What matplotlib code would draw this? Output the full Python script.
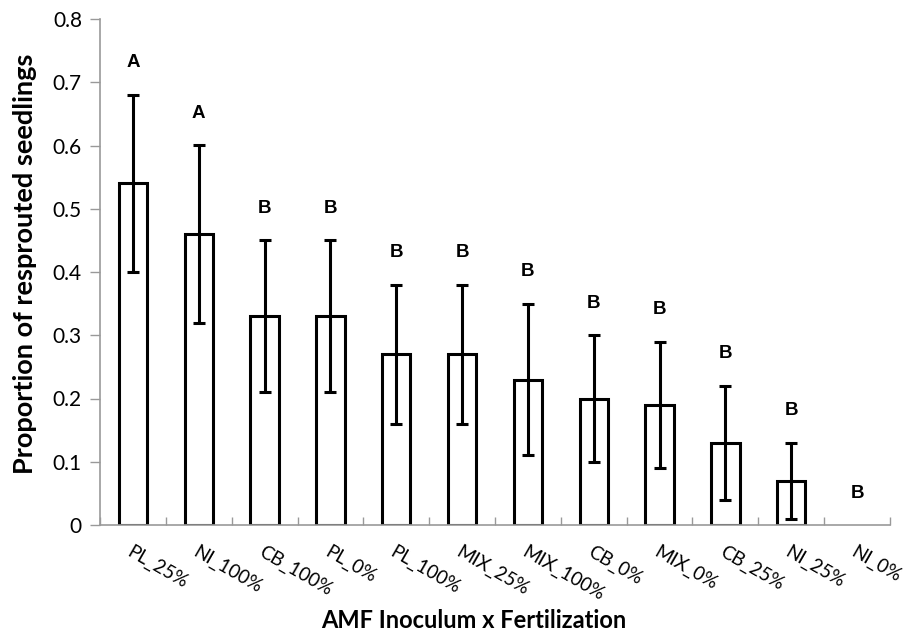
import matplotlib
matplotlib.use("Agg")
import matplotlib.pyplot as plt
import numpy as np

categories = ["PL_25%", "NI_100%", "CB_100%", "PL_0%", "PL_100%", "MIX_25%",
              "MIX_100%", "CB_0%", "MIX_0%", "CB_25%", "NI_25%", "NI_0%"]
means = [0.54, 0.46, 0.33, 0.33, 0.27, 0.27, 0.23, 0.20, 0.19, 0.13, 0.07, 0.0]
errors = [0.14, 0.14, 0.12, 0.12, 0.11, 0.11, 0.12, 0.10, 0.10, 0.09, 0.06, 0.0]
letters = ["A", "A", "B", "B", "B", "B", "B", "B", "B", "B", "B", "B"]
yticks = [0, 0.1, 0.2, 0.3, 0.4, 0.5, 0.6, 0.7, 0.8]
ytick_labels = ["0", "0.1", "0.2", "0.3", "0.4", "0.5", "0.6", "0.7", "0.8"]

fig = plt.figure(figsize=(9.06, 6.33), dpi=100)
ax = fig.add_axes([100/906, 1 - 525/633, 790/906, (525 - 19)/633])

x = np.arange(len(categories))
nz = [i for i in x if means[i] > 0]
ax.bar([x[i] for i in nz], [means[i] for i in nz], width=0.43, color="white",
       edgecolor="black", linewidth=2.2, zorder=2)
ne = [i for i in x if errors[i] > 0]
ax.errorbar([x[i] for i in ne], [means[i] for i in ne], yerr=[errors[i] for i in ne],
            fmt="none", ecolor="black", elinewidth=2.2, capsize=4, capthick=2.2, zorder=3)

for i in x:
    top = means[i] + errors[i]
    ax.annotate(letters[i], (i, top), xytext=(0, 23), textcoords="offset points",
                ha="center", va="center", fontsize=13.5, fontweight="bold",
                family="Liberation Sans")

ax.set_xlim(-0.5, len(categories) - 0.5)
ax.set_ylim(0, 0.8)
ax.set_yticks(yticks)
ax.set_yticklabels(ytick_labels, family="Lato", fontsize=15)
ax.set_xticks(x)
ax.set_xticklabels(categories, rotation=-30, ha="left", va="top",
                   rotation_mode="anchor", family="Lato", fontsize=13.5)
ax.tick_params(axis="x", which="major", length=0, pad=13)
ax.set_xticks(np.arange(-0.5, len(categories) + 0.5, 1), minor=True)
ax.tick_params(axis="x", which="minor", direction="in", length=6, color="#999999", width=1)
ax.tick_params(axis="y", direction="out", length=7, color="#999999", width=1, pad=6)

for s in ["top", "right"]:
    ax.spines[s].set_visible(False)
for s in ["left", "bottom"]:
    ax.spines[s].set_color("#999999")
    ax.spines[s].set_linewidth(1.2)

fig.text(25/906, 1 - 264/633, "Proportion of resprouted seedlings", family="Lato",
         fontweight="bold", fontsize=19.5, rotation=90, ha="center", va="center")
fig.text(474/906, 1 - 621/633, "AMF Inoculum x Fertilization", family="Lato",
         fontweight="bold", fontsize=17, ha="center", va="center")

fig.savefig("out.png", dpi=100)
